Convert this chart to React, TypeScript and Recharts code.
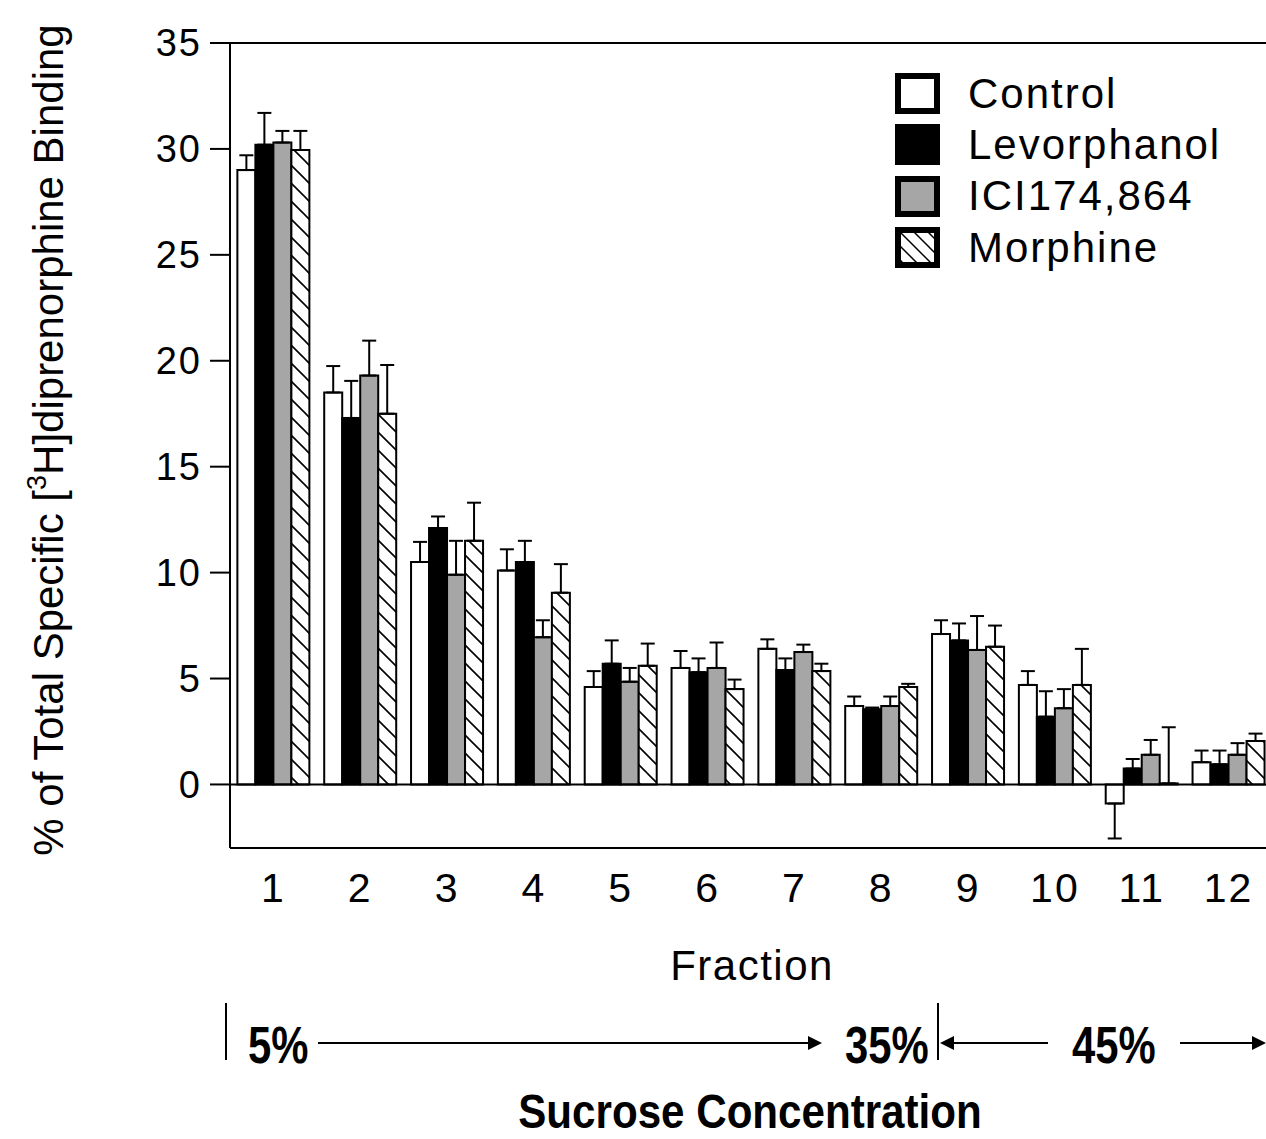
import React from "react";
import {
  Bar,
  BarChart,
  ErrorBar,
  Legend,
  ReferenceLine,
  XAxis,
  YAxis,
} from "recharts";

const fractions = ["1", "2", "3", "4", "5", "6", "7", "8", "9", "10", "11", "12"];

const control = [29.0, 18.5, 10.5, 10.1, 4.6, 5.5, 6.4, 3.7, 7.1, 4.7, -0.9, 1.05];
const controlErr = [0.7, 1.25, 0.95, 1.0, 0.75, 0.8, 0.45, 0.45, 0.65, 0.65, 1.65, 0.55];

const levorphanol = [30.2, 17.3, 12.1, 10.5, 5.7, 5.3, 5.4, 3.55, 6.8, 3.2, 0.75, 0.95];
const levorphanolErr = [1.5, 1.75, 0.55, 1.0, 1.1, 0.65, 0.55, 0.08, 0.8, 1.2, 0.45, 0.65];

const ici = [30.3, 19.3, 9.9, 6.95, 4.85, 5.5, 6.25, 3.7, 6.35, 3.6, 1.4, 1.4];
const iciErr = [0.55, 1.65, 1.6, 0.8, 0.65, 1.2, 0.35, 0.45, 1.6, 0.9, 0.7, 0.55];

const morphine = [29.95, 17.5, 11.5, 9.05, 5.6, 4.5, 5.35, 4.6, 6.5, 4.7, 0.05, 2.05];
const morphineErr = [0.9, 2.3, 1.8, 1.35, 1.05, 0.45, 0.35, 0.15, 1.0, 1.7, 2.65, 0.35];

const yTicks = [0, 5, 10, 15, 20, 25, 30, 35];

const FONT = "'Liberation Sans', Arial, sans-serif";

// one-sided error: up for positive means, down for negative
const oneSided = (v: number, e: number) => (v < 0 ? [e, 0] : [0, e]);

const data = fractions.map((f, i) => ({
  fraction: f,
  control: control[i],
  controlErr: oneSided(control[i], controlErr[i]),
  levorphanol: levorphanol[i],
  levorphanolErr: oneSided(levorphanol[i], levorphanolErr[i]),
  ici: ici[i],
  iciErr: oneSided(ici[i], iciErr[i]),
  morphine: morphine[i],
  morphineErr: oneSided(morphine[i], morphineErr[i]),
}));

const series = [
  { key: "control", name: "Control", fill: "#ffffff" },
  { key: "levorphanol", name: "Levorphanol", fill: "#000000" },
  { key: "ici", name: "ICI174,864", fill: "#a6a6a6" },
  { key: "morphine", name: "Morphine", fill: "url(#hatch)" },
];

function LegendBox() {
  return (
    <div style={{ fontFamily: FONT, fontSize: 42, letterSpacing: 2, color: "#000" }}>
      {series.map((s) => (
        <div
          key={s.key}
          style={{ display: "flex", alignItems: "center", height: 51.3 }}
        >
          <svg width={45} height={41} style={{ marginRight: 28 }}>
            <defs>
              <pattern id="hatchSmall" patternUnits="userSpaceOnUse" width="14" height="14">
                <rect width="14" height="14" fill="#fff" />
                <path d="M0,0 L14,14 M-2,12 L2,16 M12,-2 L16,2" stroke="#000" strokeWidth="1.5" />
              </pattern>
            </defs>
            <rect
              x={3}
              y={3}
              width={39}
              height={35}
              fill={s.key === "morphine" ? "url(#hatchSmall)" : s.fill}
              stroke="#000"
              strokeWidth={6}
            />
          </svg>
          <span style={{ lineHeight: 1 }}>{s.name}</span>
        </div>
      ))}
    </div>
  );
}

// bold, horizontally squeezed text like the narrow face of the original
function NarrowBold({
  x,
  y,
  anchor,
  sx = 0.82,
  size = 51,
  children,
}: {
  x: number;
  y: number;
  anchor?: string;
  sx?: number;
  size?: number;
  children: string;
}) {
  return (
    <text
      transform={`translate(${x},${y}) scale(${sx},1)`}
      textAnchor={anchor || "start"}
      fontFamily={FONT}
      fontWeight="bold"
      fontSize={size}
      fill="#000"
    >
      {children}
    </text>
  );
}

export default function App() {
  return (
    <div
      style={{
        position: "absolute",
        left: 0,
        top: 0,
        width: 1266,
        height: 1139,
        overflow: "hidden",
        background: "#fff",
      }}
    >
      <BarChart
        width={1300}
        height={1139}
        data={data}
        margin={{ top: 43, right: 28, bottom: 231, left: 130 }}
        barCategoryGap="8.5%"
        barGap={0}
      >
        <defs>
          <pattern id="hatch" patternUnits="userSpaceOnUse" width="18" height="18">
            <rect width="18" height="18" fill="#fff" />
            <path d="M0,0 L18,18 M-2,16 L2,20 M16,-2 L20,2" stroke="#000" strokeWidth="1.6" />
          </pattern>
        </defs>
        <XAxis
          dataKey="fraction"
          height={60}
          tickLine={false}
          tickSize={0}
          tickMargin={25}
          axisLine={{ stroke: "#000", strokeWidth: 2 }}
          tick={{ fill: "#000", fontSize: 41, fontFamily: FONT, letterSpacing: 2 }}
          interval={0}
        />
        <YAxis
          width={100}
          domain={[-3, 35]}
          ticks={yTicks}
          tickSize={20}
          tickMargin={8}
          axisLine={{ stroke: "#000", strokeWidth: 2 }}
          tickLine={{ stroke: "#000", strokeWidth: 2 }}
          tick={{ fill: "#000", fontSize: 38, fontFamily: FONT, letterSpacing: 2 }}
        />
        <ReferenceLine y={35} stroke="#000" strokeWidth={2} />
        <ReferenceLine y={0} stroke="#000" strokeWidth={2} />
        <Legend
          layout="vertical"
          align="center"
          verticalAlign="middle"
          wrapperStyle={{ left: 895, top: 68, width: 360 }}
          content={() => <LegendBox />}
        />
        {series.map((s) => (
          <Bar
            key={s.key}
            dataKey={s.key}
            name={s.name}
            fill={s.fill}
            stroke="#000"
            strokeWidth={2}
            isAnimationActive={false}
          >
            <ErrorBar
              dataKey={s.key + "Err"}
              direction="y"
              width={7}
              stroke="#000"
              strokeWidth={2}
              isAnimationActive={false}
            />
          </Bar>
        ))}
      </BarChart>

      <svg
        width={1266}
        height={1139}
        style={{ position: "absolute", left: 0, top: 0, pointerEvents: "none" }}
      >
        <text
          transform="translate(63,440) rotate(-90)"
          textAnchor="middle"
          fontFamily={FONT}
          fontSize={42}
          fill="#000"
        >
          % of Total Specific [
          <tspan fontSize={27} dy={-17}>
            3
          </tspan>
          <tspan dy={17}>H]diprenorphine Binding</tspan>
        </text>
        <text
          x={752}
          y={980}
          textAnchor="middle"
          fontFamily={FONT}
          fontSize={42}
          letterSpacing={1.5}
          fill="#000"
        >
          Fraction
        </text>

        <g stroke="#000" strokeWidth={2} fill="#000">
          <line x1={226} y1={1003} x2={226} y2={1060} />
          <line x1={318} y1={1043} x2={810} y2={1043} />
          <polygon points="808,1036 822,1043 808,1050" stroke="none" />
          <line x1={938} y1={1003} x2={938} y2={1060} />
          <polygon points="940,1043 954,1036 954,1050" stroke="none" />
          <line x1={952} y1={1043} x2={1048} y2={1043} />
          <line x1={1180} y1={1043} x2={1254} y2={1043} />
          <polygon points="1252,1036 1266,1043 1252,1050" stroke="none" />
        </g>
        <NarrowBold x={248} y={1063}>5%</NarrowBold>
        <NarrowBold x={845} y={1063}>35%</NarrowBold>
        <NarrowBold x={1072} y={1063}>45%</NarrowBold>
        <NarrowBold x={750} y={1128} anchor="middle" sx={0.86} size={49}>
          Sucrose Concentration
        </NarrowBold>
      </svg>
    </div>
  );
}
